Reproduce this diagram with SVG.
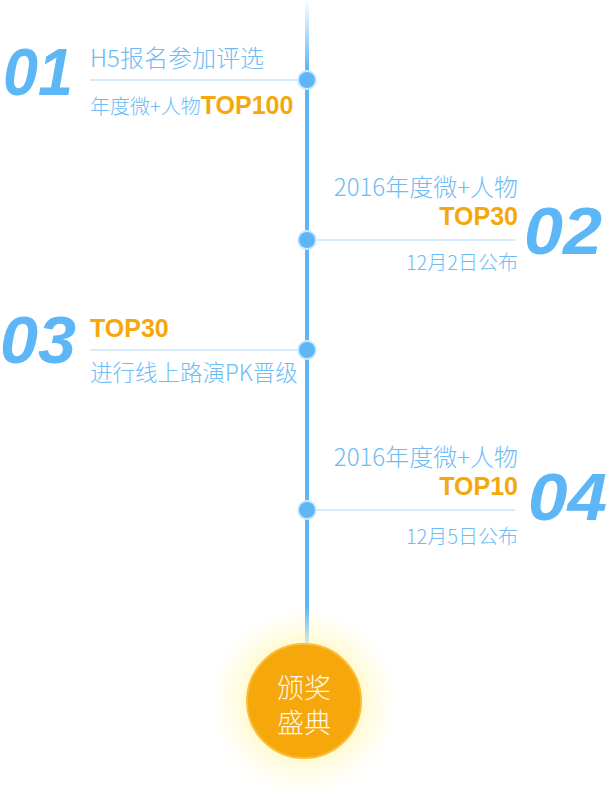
<svg xmlns="http://www.w3.org/2000/svg" width="611" height="804" viewBox="0 0 611 804">
<style>
.num{font-family:"Liberation Sans",Arial,sans-serif;font-weight:bold;font-style:italic;font-size:66px;fill:#5db6f6}
.t{font-family:"Noto Sans CJK SC","Liberation Sans",sans-serif;font-weight:300;fill:#6dbcf5}
.o{font-family:"Liberation Sans",Arial,sans-serif;font-weight:bold;fill:#f5a80c;font-size:25px}
.ln{stroke:#a8d8fb;stroke-width:1}
.aw{font-family:"Noto Sans CJK SC",sans-serif;font-size:27px;font-weight:300;fill:#fff7e8;text-anchor:middle}
</style>
<defs>
<linearGradient id="vg" x1="0" y1="0" x2="0" y2="1">
<stop offset="0" stop-color="#5db6f6" stop-opacity="0"/>
<stop offset="1" stop-color="#5db6f6"/>
</linearGradient>
<radialGradient id="glow" cx="0.5" cy="0.5" r="0.5">
<stop offset="0.55" stop-color="#fff8c0" stop-opacity="0.9"/>
<stop offset="1" stop-color="#fffde0" stop-opacity="0"/>
</radialGradient>
<g id="dot"><circle r="10" fill="#cde9fd"/><circle r="8" fill="#5db6f6"/></g>
</defs>
<g id="connectors">
<rect x="305" y="0" width="4" height="70" fill="url(#vg)"/>
<rect x="305" y="70" width="4" height="580" fill="#5db6f6"/>
<line class="ln" x1="90" y1="80" x2="298" y2="80"/>
<line class="ln" x1="316" y1="240" x2="515" y2="240"/>
<line class="ln" x1="90" y1="350" x2="298" y2="350"/>
<line class="ln" x1="316" y1="510" x2="515" y2="510"/>
</g>
<g id="step1">
<use href="#dot" x="307" y="80"/>
<text class="num" x="3" y="95" textLength="70" lengthAdjust="spacingAndGlyphs">01</text>
<text class="t" x="90" y="67" font-size="24">H5报名参加评选</text>
<text x="90" y="114"><tspan class="t" font-size="20">年度微+人物</tspan><tspan class="o">TOP100</tspan></text>
</g>
<g id="step2">
<use href="#dot" x="307" y="240"/>
<text class="num" x="524" y="254" textLength="78" lengthAdjust="spacingAndGlyphs">02</text>
<text class="t" x="518" y="196" font-size="24" text-anchor="end">2016年度微+人物</text>
<text class="o" x="518" y="225" text-anchor="end">TOP30</text>
<text class="t" x="518" y="270" font-size="20" text-anchor="end">12月2日公布</text>
</g>
<g id="step3">
<use href="#dot" x="307" y="350"/>
<text class="num" x="0" y="363" textLength="76" lengthAdjust="spacingAndGlyphs">03</text>
<text class="o" x="90" y="337">TOP30</text>
<text class="t" x="90" y="381" font-size="22.5">进行线上路演PK晋级</text>
</g>
<g id="step4">
<use href="#dot" x="307" y="510"/>
<text class="num" x="528" y="520" textLength="79" lengthAdjust="spacingAndGlyphs">04</text>
<text class="t" x="518" y="466" font-size="24" text-anchor="end">2016年度微+人物</text>
<text class="o" x="518" y="495" text-anchor="end">TOP10</text>
<text class="t" x="518" y="544" font-size="20" text-anchor="end">12月5日公布</text>
</g>
<g id="award">
<circle cx="304" cy="701" r="95" fill="url(#glow)"/>
<circle cx="304" cy="701" r="57" fill="#f5a70c" stroke="#fbbd35" stroke-width="2"/>
<text class="aw" x="304" y="698">颁奖</text>
<text class="aw" x="304" y="733">盛典</text>
</g>
</svg>
